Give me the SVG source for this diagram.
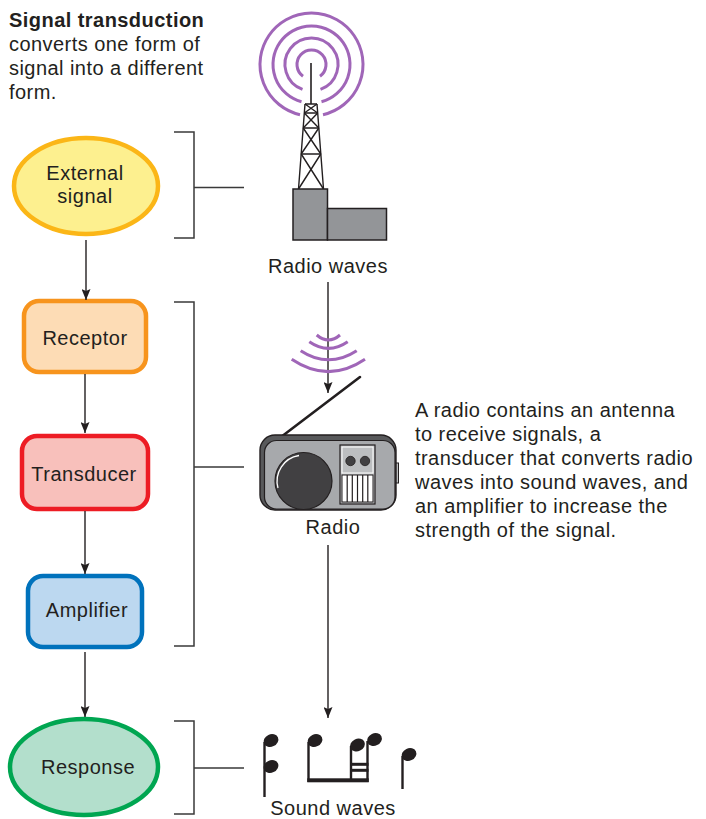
<svg xmlns="http://www.w3.org/2000/svg" width="706" height="819" viewBox="0 0 706 819">
  <style>
    text { font-family: "Liberation Sans", Arial, Helvetica, sans-serif; fill: #231f20; }
    .lbl { font-size: 20px; letter-spacing: 0.5px; text-anchor: middle; }
    .body { font-size: 20px; letter-spacing: 0.45px; }
    .bold { font-weight: bold; }
    .conn { fill: none; stroke: #231f20; stroke-width: 1.4; }
    .brk { fill: none; stroke: #3a3a3a; stroke-width: 1.5; }
    .wave { fill: none; stroke: #a066b8; stroke-width: 3; stroke-linecap: butt; }
    .head { fill: #231f20; }
  </style>
  <defs>
    <marker id="arrow" markerUnits="userSpaceOnUse" markerWidth="12" markerHeight="9" refX="11" refY="4.5" orient="auto">
      <path d="M0,0 L11,4.5 L0,9 L2,4.5 Z" fill="#231f20"/>
    </marker>
  </defs>

  <rect width="706" height="819" fill="#ffffff"/>

  <!-- Heading -->
  <g id="heading">
    <text class="body bold" x="9" y="27">Signal transduction</text>
    <text class="body" x="9" y="51">converts one form of</text>
    <text class="body" x="9" y="75">signal into a different</text>
    <text class="body" x="9" y="99">form.</text>
  </g>

  <!-- Flow nodes -->
  <g id="external-signal">
    <ellipse cx="86" cy="186" rx="72" ry="48" fill="#fdf08f" stroke="#fbb617" stroke-width="4.5"/>
    <text class="lbl" x="85" y="180">External</text>
    <text class="lbl" x="85" y="203">signal</text>
  </g>
  <g id="receptor">
    <rect x="24" y="301" width="122" height="71" rx="15" fill="#fddcb5" stroke="#f7941d" stroke-width="4.5"/>
    <text class="lbl" x="85" y="345">Receptor</text>
  </g>
  <g id="transducer">
    <rect x="22" y="436" width="126" height="73" rx="15" fill="#f8c0bb" stroke="#ed1c24" stroke-width="4.5"/>
    <text class="lbl" x="84" y="481">Transducer</text>
  </g>
  <g id="amplifier">
    <rect x="28" y="576" width="114" height="71" rx="15" fill="#bcd8f0" stroke="#0072bc" stroke-width="4.5"/>
    <text class="lbl" x="87" y="617">Amplifier</text>
  </g>
  <g id="response">
    <ellipse cx="84" cy="767" rx="74" ry="48" fill="#b3dfcc" stroke="#00a651" stroke-width="4.5"/>
    <text class="lbl" x="88" y="774">Response</text>
  </g>

  <!-- Connectors and brackets -->
  <g id="connectors">
    <path class="conn" d="M86 240 V300" marker-end="url(#arrow)"/>
    <path class="conn" d="M85 374 V433" marker-end="url(#arrow)"/>
    <path class="conn" d="M85 511 V574" marker-end="url(#arrow)"/>
    <path class="conn" d="M85 652 V717" marker-end="url(#arrow)"/>
    <path class="conn" d="M328 282 V393" marker-end="url(#arrow)"/>
    <path class="conn" d="M328 545 V718" marker-end="url(#arrow)"/>

    <path class="brk" d="M174 132 H194 V238 H174 M194 187.5 H244"/>
    <path class="brk" d="M174 302 H194 V646 H174 M194 467 H244"/>
    <path class="brk" d="M174 721 H194 V814 H174 M194 768 H244"/>
  </g>

  <!-- Transmitter tower -->
  <g id="radio-tower">
    <path class="wave" d="M300 114.7 A51.5 51.5 0 1 1 323 114.7"/>
    <path class="wave" d="M301.5 101.7 A38.5 38.5 0 1 1 321.5 101.7"/>
    <path class="wave" d="M302.5 89.4 A26.5 26.5 0 1 1 320.5 89.4"/>
    <path class="wave" d="M303 76.2 A14.5 14.5 0 1 1 320 76.2"/>
    <line x1="311" y1="63" x2="311" y2="104" stroke="#231f20" stroke-width="1.6"/>
    <g fill="none" stroke="#231f20" stroke-width="1.4">
      <!-- legs -->
      <path d="M305 104 L298.5 189 M317 104 L323.5 189"/>
      <!-- cross bars -->
      <path d="M305 104 H317 M304.3 113 H317.7 M303.2 128 H318.8 M301.2 154 H320.8"/>
      <!-- bracing -->
      <path d="M305 104 L317.7 113 M317 104 L304.3 113"/>
      <path d="M304.3 113 L318.8 128 M317.7 113 L303.2 128"/>
      <path d="M303.2 128 L320.8 154 M318.8 128 L301.2 154"/>
      <path d="M301.2 154 L323.5 189 M320.8 154 L298.5 189"/>
    </g>
    <rect x="293" y="189" width="34.5" height="51" fill="#939598" stroke="#231f20" stroke-width="1.5"/>
    <rect x="327.5" y="208.5" width="59" height="31.5" fill="#939598" stroke="#231f20" stroke-width="1.5"/>
  </g>
  <g id="label-radio-waves">
    <text class="lbl" x="328" y="273">Radio waves</text>
  </g>

  <!-- Incoming waves -->
  <g id="incoming-waves">
    <path class="wave" d="M316.7 335 Q328.5 345 340 335"/>
    <path class="wave" d="M309.3 341.7 Q328.5 355 347.7 341.7"/>
    <path class="wave" d="M300.7 350.7 Q328.5 369 356.7 350.7"/>
    <path class="wave" d="M291.7 359.3 Q328.5 384 365 359.3"/>
  </g>

  <!-- Radio receiver -->
  <g id="radio">
    <line x1="360" y1="377" x2="281" y2="437" stroke="#231f20" stroke-width="2.6" stroke-linecap="round"/>
    <rect x="394.5" y="463" width="4" height="20" fill="#bcbec0" stroke="#231f20" stroke-width="1"/>
    <rect x="260" y="435" width="136" height="75" rx="15" fill="#58595b" stroke="#231f20" stroke-width="1.4"/>
    <rect x="264.5" y="440.5" width="130.5" height="68.5" rx="12" fill="#a7a9ac" stroke="#231f20" stroke-width="1.2"/>
    <circle cx="303.5" cy="481" r="28.5" fill="#414042" stroke="#231f20" stroke-width="1.2"/>
    <path d="M278 488 A26 26 0 0 1 299 455.5" fill="none" stroke="#ffffff" stroke-width="1.3"/>
    <rect x="340" y="445" width="35" height="59" fill="#bcbec0" stroke="#231f20" stroke-width="1.2"/>
    <rect x="342" y="447" width="31" height="26" fill="none" stroke="#ffffff" stroke-width="1"/>
    <circle cx="350.5" cy="461" r="4.7" fill="#414042" stroke="#231f20" stroke-width="0.8"/>
    <circle cx="365" cy="461" r="4.7" fill="#414042" stroke="#231f20" stroke-width="0.8"/>
    <rect x="342" y="475" width="31" height="27" fill="#ffffff" stroke="#231f20" stroke-width="1"/>
    <path d="M347.2 475 V502 M352.3 475 V502 M357.5 475 V502 M362.7 475 V502 M367.8 475 V502" stroke="#231f20" stroke-width="1.2"/>
  </g>
  <g id="label-radio">
    <text class="lbl" x="333" y="534">Radio</text>
  </g>

  <g id="radio-description">
    <text class="body" x="415" y="417">A radio contains an antenna</text>
    <text class="body" x="415" y="441">to receive signals, a</text>
    <text class="body" x="415" y="465">transducer that converts radio</text>
    <text class="body" x="415" y="489">waves into sound waves, and</text>
    <text class="body" x="415" y="513">an amplifier to increase the</text>
    <text class="body" x="415" y="537">strength of the signal.</text>
  </g>

  <!-- Musical notes -->
  <g id="sound-waves">
    <g class="head">
      <ellipse cx="271" cy="740.5" rx="7.6" ry="6.2" transform="rotate(-25 271 740.5)"/>
      <ellipse cx="271" cy="766.5" rx="7.6" ry="6.2" transform="rotate(-25 271 766.5)"/>
      <ellipse cx="315" cy="740.5" rx="7.6" ry="6.2" transform="rotate(-25 315 740.5)"/>
      <ellipse cx="357.5" cy="745" rx="7.6" ry="6.2" transform="rotate(-25 357.5 745)"/>
      <ellipse cx="374.5" cy="739.5" rx="7.6" ry="6.2" transform="rotate(-25 374.5 739.5)"/>
      <ellipse cx="409" cy="754.5" rx="7.6" ry="6.2" transform="rotate(-25 409 754.5)"/>
    </g>
    <g stroke="#231f20" stroke-width="2.4" fill="none">
      <path d="M264.5 742 V797"/>
      <path d="M308.5 742 V782"/>
      <path d="M351 746 V782"/>
      <path d="M367.5 741 V782"/>
      <path d="M402.5 756 V789"/>
    </g>
    <rect x="307.3" y="778.3" width="61.4" height="4" fill="#231f20"/>
    <rect x="350" y="762.8" width="18.5" height="3" fill="#231f20"/>
    <rect x="350" y="768.8" width="18.5" height="3" fill="#231f20"/>
  </g>
  <g id="label-sound-waves">
    <text class="lbl" x="333" y="815">Sound waves</text>
  </g>
</svg>
